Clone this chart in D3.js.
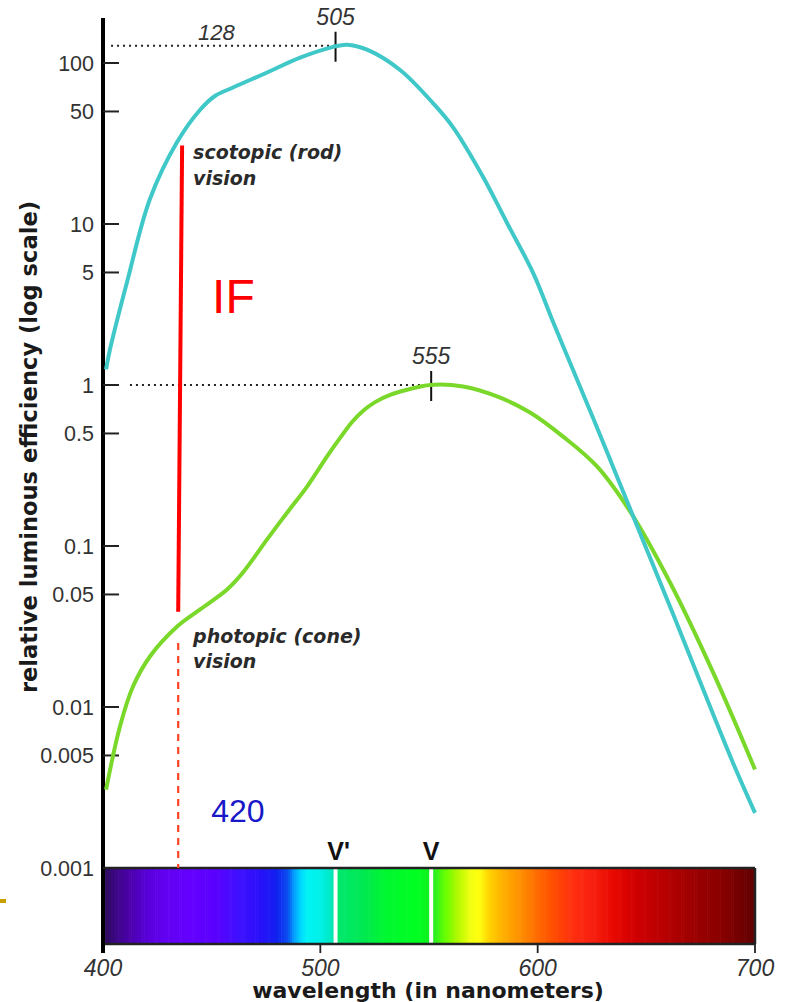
<!DOCTYPE html>
<html><head><meta charset="utf-8">
<script src="https://cdn.jsdelivr.net/npm/d3@7"></script>
<style>body{margin:0;background:#fff}svg{display:block}</style>
</head><body>
<script>
// ---- data ----
const rodData = [[401.4,1.25],[403.2,1.66],[411.0,4.33],[421.6,14.3],[434.1,32.3],[444.6,51.1],[451.5,62.4],[459.8,70.4],[475.5,87.3],[490.7,108],[505.9,126],[512.3,130],[521.5,121],[536.7,90.5],[551.8,56.4],[561.0,40.0],[574.9,19.6],[585.9,10.15],[597.9,4.97],[607.1,2.46],[616.3,1.24],[625.5,0.624],[634.7,0.310],[643.9,0.1535],[653.1,0.0762],[662.3,0.0378],[671.5,0.0185],[680.7,0.00905],[689.9,0.00449],[700,0.00220]];
const coneData = [[401.4,0.00307],[407.8,0.00757],[413.8,0.0134],[421.6,0.0206],[434.1,0.0316],[444.7,0.0404],[457.1,0.0537],[464.4,0.0685],[475.5,0.110],[484.7,0.161],[493.9,0.234],[503.1,0.360],[509.1,0.469],[514.6,0.589],[519.6,0.690],[525.2,0.783],[532.1,0.867],[541.3,0.944],[550.5,1.0],[565.7,0.978],[581.3,0.849],[596.5,0.675],[611.7,0.478],[627.3,0.312],[642.5,0.164],[660.9,0.0593],[680.7,0.0164],[700,0.00409]];
const yTicks = [100,50,10,5,1,0.5,0.1,0.05,0.01,0.005,0.001];
const yTickLabels = ["100","50","10","5","1","0.5","0.1","0.05","0.01","0.005","0.001"];
const xTicks = [400,500,600,700];
const xTickLabels = ["400","500","600","700"];
// peak markers: label, marker wavelength, value, dotted-line start wavelength, spectrum label
const peakLabels = ["505","555"];
const peakW = [507,551];
const peakV = [128,1];
const peakLineStart = [403.7,412.4];
const peakBarLabels = ["V'","V"];
const peakValueLabel = "128";
// IF annotation
const ifTop = [436.4,30.7];
const ifBottom = [434.6,0.039];
const dashW = 434.6, dashTopV = 0.025;
const spectrumW = [400,405,412,420,428,440,452,462,472,480,485,488,491,494,500,505,508,520,530,545,550,553,557,563,569,573,578,584,592,600,608,616,625,635,645,658,670,685,700];
const spectrumC = ["#2a0a50","#3a0880","#4a00a8","#5800d8","#6200f0","#6400ff","#5a00ff","#4010ff","#2a10fa","#1020f0","#0a50f0","#00a0ff","#00d8ff","#00f4f4","#00f0e8","#00e8c0","#00e870","#00e850","#00f830","#00ff20","#10f020","#30f020","#60ff00","#b0f800","#f0ff10","#ffff10","#ffd000","#ffb000","#ff9000","#ff6a00","#ff4a00","#ff3010","#f82010","#e80800","#d00000","#b80000","#a00000","#880000","#600000"];

// ---- layout ----
const W = 789, H = 1002;
const x = d3.scaleLinear().domain([400,700]).range([103,755]);
const y = d3.scaleLog().domain([0.001,100]).range([868,63]);
const yTop = 190;
const barH = 76;
const barTop = y(0.001), barBot = barTop + barH;
const sans = "'Liberation Sans', Arial, sans-serif";
const wide = "'DejaVu Sans', Verdana, sans-serif";

const svg = d3.select("body").append("svg").attr("width",W).attr("height",H);

// spectrum
const color = d3.scaleLinear().domain(spectrumW).range(spectrumC).interpolate(d3.interpolateRgb);
const steps = d3.range(400,700,1);
svg.append("g").selectAll("rect").data(steps).join("rect")
  .attr("x", d=>x(d)).attr("y", barTop)
  .attr("width", d=>x(d+1)-x(d)+0.6).attr("height", barH)
  .attr("fill", d=>color(d+0.5));
// gaps
svg.append("g").selectAll("line").data(peakW).join("line")
  .attr("x1", d=>x(d)).attr("x2", d=>x(d))
  .attr("y1", barTop-1).attr("y2", barBot+1)
  .attr("stroke","#fff").attr("stroke-width",4);
// border
const bg = svg.append("g").attr("stroke","#222").attr("stroke-width",2.5).attr("fill","none");
bg.append("line").attr("x1",x(400)).attr("x2",x(700)).attr("y1",barTop).attr("y2",barTop);
bg.append("line").attr("x1",x(400)).attr("x2",x(700)).attr("y1",barBot).attr("y2",barBot);
bg.append("line").attr("x1",x(700)).attr("x2",x(700)).attr("y1",barTop).attr("y2",barBot);
// bar labels
svg.append("g").selectAll("text").data(peakBarLabels).join("text")
  .attr("x",(d,i)=>x(peakW[i])).attr("dx",(d,i)=>i===0?3:0).attr("y",barTop-8)
  .attr("text-anchor","middle").attr("font-family",sans).attr("font-weight","bold")
  .attr("font-size",25).attr("fill","#111").text(d=>d);

// x ticks
svg.append("g").selectAll("line").data(xTicks).join("line")
  .attr("x1",d=>x(d)).attr("x2",d=>x(d)).attr("y1",barBot).attr("y2",barBot+9)
  .attr("stroke","#222").attr("stroke-width",1.8);
svg.append("g").selectAll("text").data(xTicks).join("text")
  .attr("x",d=>x(d)).attr("y",barBot+32).attr("text-anchor","middle")
  .attr("font-family",sans).attr("font-style","italic").attr("font-size",23).attr("fill","#333")
  .text((d,i)=>xTickLabels[i]);

// y axis
svg.append("line").attr("x1",x(400)).attr("x2",x(400)).attr("y1",y(yTop)).attr("y2",barBot+9)
  .attr("stroke","#000").attr("stroke-width",4);
svg.append("g").selectAll("line").data(yTicks).join("line")
  .attr("x1",x(400)).attr("x2",x(400)+16).attr("y1",d=>y(d)).attr("y2",d=>y(d))
  .attr("stroke","#222").attr("stroke-width",2);
svg.append("g").selectAll("text").data(yTicks).join("text")
  .attr("x",x(400)-9).attr("y",d=>y(d)).attr("dy","0.36em").attr("text-anchor","end")
  .attr("font-family",sans).attr("font-size",21.5).attr("fill","#333")
  .text((d,i)=>yTickLabels[i]);

// titles
svg.append("text").attr("transform",`translate(37,447) rotate(-90)`)
  .attr("text-anchor","middle").attr("font-family",wide).attr("font-weight","bold")
  .attr("font-size",22.6).attr("fill","#1a1a1a").text("relative luminous efficiency (log scale)");
svg.append("text").attr("x",428).attr("y",998).attr("text-anchor","middle")
  .attr("font-family",wide).attr("font-weight","bold").attr("font-size",22).attr("fill","#1a1a1a")
  .text("wavelength (in nanometers)");

// dotted reference lines and peak markers
svg.append("g").selectAll("line").data(peakW).join("line")
  .attr("x1",(d,i)=>x(peakLineStart[i])).attr("x2",d=>x(d))
  .attr("y1",(d,i)=>y(peakV[i])).attr("y2",(d,i)=>y(peakV[i]))
  .attr("stroke","#222").attr("stroke-width",2).attr("stroke-dasharray","2,4");
svg.append("g").selectAll("line").data(peakW).join("line")
  .attr("x1",d=>x(d)).attr("x2",d=>x(d))
  .attr("y1",(d,i)=>y(peakV[i])-14).attr("y2",(d,i)=>y(peakV[i])+16)
  .attr("stroke","#111").attr("stroke-width",2);
svg.append("g").selectAll("text").data(peakW).join("text")
  .attr("x",d=>x(d)).attr("y",(d,i)=>y(peakV[i])-21).attr("text-anchor","middle")
  .attr("font-family",sans).attr("font-style","italic").attr("font-size",23).attr("fill","#333")
  .text((d,i)=>peakLabels[i]);
svg.append("text").attr("x",(x(peakLineStart[0])+x(peakW[0]))/2-7).attr("y",y(peakV[0])-6)
  .attr("text-anchor","middle").attr("font-family",sans).attr("font-style","italic")
  .attr("font-size",22).attr("fill","#333").text(peakValueLabel);

// curves
const line = d3.line().x(d=>x(d[0])).y(d=>y(d[1])).curve(d3.curveCatmullRom.alpha(0.5));
svg.append("path").datum(coneData).attr("d",line).attr("fill","none")
  .attr("stroke","#7ad82a").attr("stroke-width",4).attr("stroke-linejoin","round");
svg.append("path").datum(rodData).attr("d",line).attr("fill","none")
  .attr("stroke","#40c8c8").attr("stroke-width",4).attr("stroke-linejoin","round");

// IF annotation
svg.append("line").attr("x1",x(ifTop[0])).attr("y1",y(ifTop[1])).attr("x2",x(ifBottom[0])).attr("y2",y(ifBottom[1]))
  .attr("stroke","#ff0000").attr("stroke-width",4);
svg.append("line").attr("x1",x(dashW)).attr("x2",x(dashW)).attr("y1",y(dashTopV)).attr("y2",barTop)
  .attr("stroke","#ff4422").attr("stroke-width",2.2).attr("stroke-dasharray","7,6");
svg.append("text").attr("x",x(ifTop[0])+30).attr("y",313).attr("font-family",sans)
  .attr("font-size",48).attr("fill","#ff0000").text("IF");
svg.append("text").attr("x",x(dashW)+33).attr("y",822).attr("font-family",sans)
  .attr("font-size",32).attr("fill","#1818c8").text("420");

// curve labels
const lab = svg.append("g").attr("font-family",wide).attr("font-weight","bold").attr("font-style","italic")
  .attr("font-size",19).attr("fill","#2a2a2a");
lab.append("text").attr("x",x(ifTop[0])+11).attr("y",159).text("scotopic (rod)");
lab.append("text").attr("x",x(ifTop[0])+11).attr("y",185).text("vision");
lab.append("text").attr("x",x(ifTop[0])+11).attr("y",643).text("photopic (cone)");
lab.append("text").attr("x",x(ifTop[0])+11).attr("y",668).text("vision");

// small yellow mark at left edge
svg.append("rect").attr("x",0).attr("y",barTop+31).attr("width",6).attr("height",4).attr("fill","#c8a000");
</script>
</body></html>
